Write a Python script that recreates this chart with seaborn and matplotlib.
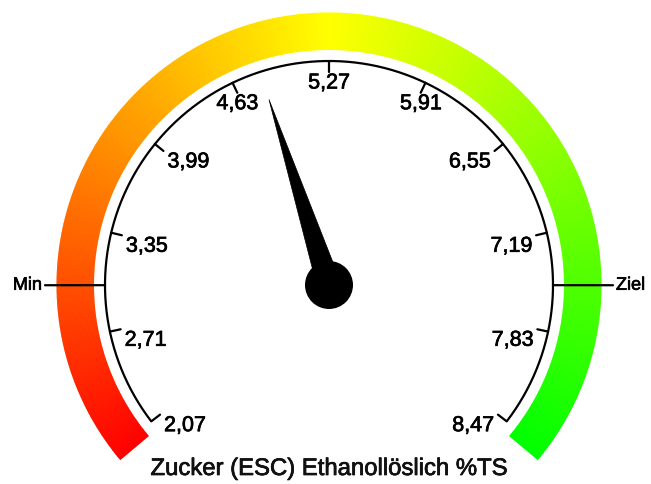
import numpy as np
import matplotlib
matplotlib.use("Agg")
import matplotlib.pyplot as plt
from matplotlib.patches import Wedge, Circle, Polygon
import matplotlib.patheffects as pe
import seaborn as sns

# ---- data ----
tick_values = [2.07, 2.71, 3.35, 3.99, 4.63, 5.27, 5.91, 6.55, 7.19, 7.83, 8.47]
tick_labels = ["2,07", "2,71", "3,35", "3,99", "4,63", "5,27", "5,91", "6,55", "7,19", "7,83", "8,47"]
needle_value = 4.82
min_value = 3.01
target_value = 7.53
title = "Zucker (ESC) Ethanollöslich %TS"

sns.set_theme(style="white")
plt.rcParams['font.family'] = ['Liberation Sans', 'DejaVu Sans']

W, H = 651, 484
fig = plt.figure(figsize=(W / 100, H / 100), dpi=100)
ax = fig.add_axes([0, 0, 1, 1])
ax.set_xlim(0, W)
ax.set_ylim(0, H)
ax.set_aspect('equal')
ax.axis('off')

cx, cy = 329, H - 285
vmin, vmax = tick_values[0], tick_values[-1]
a_start, a_end = 217.5, -37.5

def ang(v):
    return a_start + (v - vmin) / (vmax - vmin) * (a_end - a_start)

def pt(a, r):
    t = np.deg2rad(a)
    return cx + r * np.cos(t), cy + r * np.sin(t)

heavy = [pe.withStroke(linewidth=0.5, foreground='black')]

# colour band
c_start, c_end = 220.0, -40.0
n = 520
edges = np.linspace(c_start, c_end, n + 1)
for i in range(n):
    t = (i + 0.5) / n
    col = (1.0, 2 * t, 0.0) if t < 0.5 else (2 * (1 - t), 1.0, 0.0)
    a1, a2 = edges[i + 1], edges[i]
    ax.add_patch(Wedge((cx, cy), 272.5, a1 - 0.15 if i < n - 1 else a1, a2, width=37.5,
                       facecolor=col, edgecolor='none', antialiased=True))

# black scale arc
th = np.linspace(a_start, a_end, 400)
xs, ys = pt(th, 224)
ax.plot(xs, ys, color='black', lw=1.6, solid_capstyle='butt')

for v, lab in zip(tick_values, tick_labels):
    a = ang(v)
    x1, y1 = pt(a, 224)
    x2, y2 = pt(a, 213)
    ax.plot([x1, x2], [y1, y2], color='black', lw=1.6)
    if a > 120:
        ha, lx = 'left', x2 + 4
    elif a < 60:
        ha, lx = 'right', x2 - 4
    else:
        ha, lx = 'center', x2
    ax.text(lx, y2 - 11, lab, ha=ha, va='center', fontsize=15.5, color='black',
            path_effects=heavy)

# Min / Ziel markers
for v, lab, ha in [(min_value, "Min", 'right'), (target_value, "Ziel", 'left')]:
    a = ang(v)
    x1, y1 = pt(a, 224)
    x2, y2 = pt(a, 284)
    ax.plot([x1, x2], [y1, y2], color='black', lw=1.6)
    lx, ly = pt(a, 287)
    ax.text(lx, ly, lab, ha=ha, va='center', fontsize=13, color='black',
            path_effects=heavy)

# needle
a = ang(needle_value)
tx, ty = pt(a, 195)
b1 = pt(a + 90, 12)
b2 = pt(a - 90, 12)
ax.add_patch(Polygon([b1, (tx, ty), b2], closed=True, facecolor='black', edgecolor='black', lw=0.5))
ax.add_patch(Circle((cx, cy), 24, facecolor='black', edgecolor='none'))

ax.text(cx, H - 469, title, ha='center', va='center', fontsize=17.2, color='#111111',
        path_effects=heavy)

fig.savefig("out.png", dpi=100)
